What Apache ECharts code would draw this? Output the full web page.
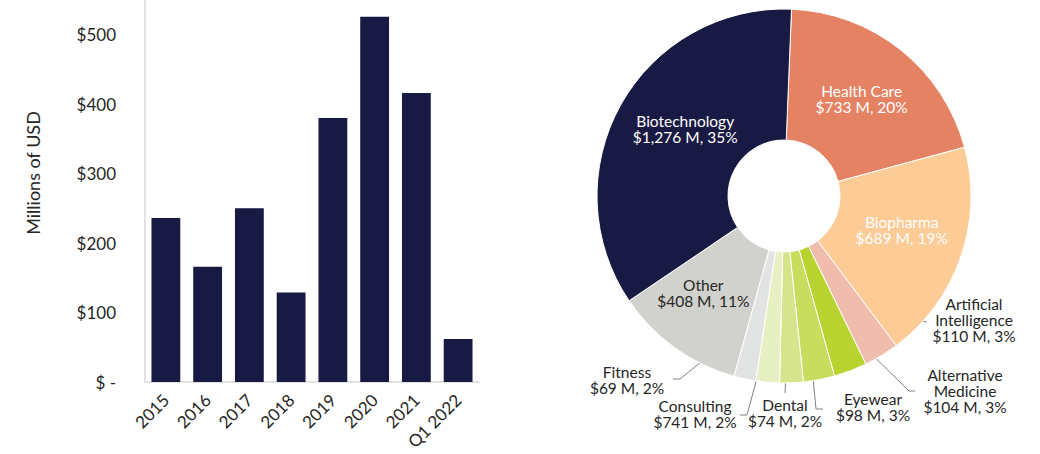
<!DOCTYPE html>
<html>
<head>
<meta charset="utf-8">
<script src="https://cdn.jsdelivr.net/npm/echarts@6/dist/echarts.min.js"></script>
<style>
html,body{margin:0;padding:0;background:#fff;}
#chart{width:1040px;height:454px;}
</style>
</head>
<body>
<div id="chart"></div>
<script>
// ---- data ----
const barCategories = ['2015', '2016', '2017', '2018', '2019', '2020', '2021', 'Q1 2022'];
const barValues = [236, 166, 250, 129, 380, 526, 416, 62];
const yTickValues = [0, 100, 200, 300, 400, 500];
const yTickLabels = ['$ -', '$100', '$200', '$300', '$400', '$500'];
const yAxisTitle = 'Millions of USD';

const pieNames = ['Health Care', 'Biopharma', 'Artificial\nIntelligence', 'Alternative\nMedicine', 'Eyewear', 'Dental', 'Consulting', 'Fitness', 'Other', 'Biotechnology'];
const pieValues = [733, 689, 110, 104, 98, 74, 74, 69, 408, 1276];
const pieAmountLabels = [733, 689, 110, 104, 98, 74, 741, 69, 408, 1276];
const pieColors = ['#e58263', '#fccb96', '#f0bcad', '#b9d431', '#c8dc5e', '#d6e58b', '#e7f0c2', '#e1e4e3', '#d1d1cd', '#191a43'];

// ---- layout / style ----
const FONT = 'Lato';
const CX = 784, CY = 196, R0 = 56, R = 187;
const insideItems = {
  'Health Care': { color: '#ffffff', dx: 0, dy: 0 },
  'Biopharma': { color: '#ffffff', dx: 0, dy: -7 },
  'Other': { color: '#262626', dx: -8, dy: -4 },
  'Biotechnology': { color: '#ffffff', dx: 10, dy: -6 }
};
// label anchor and leader-line bend/end, offsets from the pie centre
const outsideLayout = {
  'Artificial\nIntelligence': { label: [190, 124], bend: [143, 126], end: [143, 126] },
  'Alternative\nMedicine': { label: [181, 195], bend: [125, 195], end: [131, 195] },
  'Eyewear': { label: [89, 211], bend: [32, 213], end: [39, 213] },
  'Dental': { label: [1, 217], bend: [1, 197], end: [1, 197] },
  'Consulting': { label: [-89, 218], bend: [-37, 219], end: [-44, 219] },
  'Fitness': { label: [-157, 184], bend: [-104, 183], end: [-111, 183] }
};

const pieData = pieNames.map(function (n, i) {
  const ins = insideItems[n];
  return {
    name: n,
    value: pieValues[i],
    itemStyle: { color: pieColors[i] },
    label: ins ? { position: 'inside', color: ins.color } : { position: 'outside', color: '#262626' },
    labelLine: { show: !ins }
  };
});

const chart = echarts.init(document.getElementById('chart'), null, { renderer: 'svg' });
chart.setOption({
  animation: false,
  backgroundColor: '#ffffff',
  textStyle: { fontFamily: FONT },
  grid: { left: 145, right: 561, top: 0, bottom: 72, containLabel: false },
  xAxis: {
    type: 'category',
    data: barCategories,
    axisLine: { show: true, lineStyle: { color: '#d9d9d9', width: 1.5 } },
    axisTick: { show: false },
    axisLabel: { interval: 0, rotate: 45, margin: 15, fontSize: 17, color: '#262626', fontFamily: FONT }
  },
  yAxis: {
    type: 'value',
    min: 0, max: 550, interval: 100,
    axisLine: { show: true, lineStyle: { color: '#d9d9d9', width: 1.5 } },
    axisTick: { show: false },
    splitLine: { show: false },
    axisLabel: {
      margin: 29, fontSize: 17, color: '#262626', fontFamily: FONT,
      formatter: function (v) { const k = yTickValues.indexOf(v); return k >= 0 ? yTickLabels[k] : ''; }
    }
  },
  graphic: [{
    type: 'text', x: 33, y: 173, rotation: Math.PI / 2,
    style: { text: yAxisTitle, fontSize: 18, fontFamily: FONT, fill: '#262626', align: 'center', verticalAlign: 'middle' }
  }],
  series: [
    {
      type: 'bar',
      data: barValues,
      barWidth: '69%',
      itemStyle: { color: '#191a43' }
    },
    {
      type: 'pie',
      center: [CX, CY],
      radius: [R0, R],
      startAngle: 87.7,
      clockwise: true,
      avoidLabelOverlap: false,
      percentPrecision: 0,
      itemStyle: { borderColor: '#ffffff', borderWidth: 1 },
      label: {
        fontFamily: FONT, fontSize: 15.5, lineHeight: 16, align: 'center',
        formatter: function (p) {
          const i = p.dataIndex;
          return p.name + '\n$' + pieAmountLabels[i].toLocaleString('en-US') + ' M, ' + p.percent + '%';
        }
      },
      labelLine: { lineStyle: { color: '#808080', width: 1 }, length: 10, length2: 10 },
      labelLayout: function (p) {
        const name = pieNames[p.dataIndex];
        const ins = insideItems[name];
        if (ins) return { dx: ins.dx, dy: ins.dy };
        const L = outsideLayout[name];
        const pts = p.labelLinePoints;
        const f = 0.655;
        const sx = CX + (pts[0][0] - CX) * f, sy = CY + (pts[0][1] - CY) * f;
        return {
          x: CX + L.label[0], y: CY + L.label[1],
          align: 'center', verticalAlign: 'middle',
          labelLinePoints: [[sx, sy], [CX + L.bend[0], CY + L.bend[1]], [CX + L.end[0], CY + L.end[1]]]
        };
      },
      data: pieData
    }
  ]
});
</script>
</body>
</html>
